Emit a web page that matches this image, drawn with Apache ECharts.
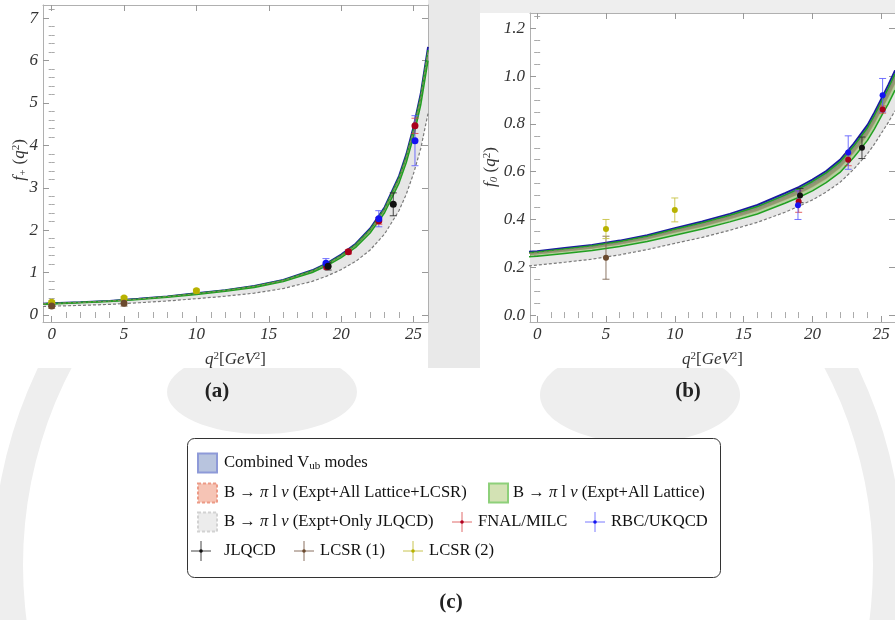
<!DOCTYPE html>
<html><head><meta charset="utf-8">
<script src="https://cdn.jsdelivr.net/npm/echarts@6/dist/echarts.min.js"></script>
<style>html,body{margin:0;padding:0;background:#fff}#c{width:895px;height:620px}</style>
</head><body><div id="c"></div><script>
// ---------- data ----------
const qGrid = [-0.6,0,2,4,6,8,10,12,14,16,18,19,20,21,22,23,24,24.5,25,25.5,26];

// f+ bands
const fpCombHi = [0.267,0.277,0.302,0.333,0.384,0.441,0.513,0.589,0.687,0.830,1.056,1.220,1.425,1.681,2.040,2.542,3.280,3.793,4.438,5.228,6.324];
const fpCombLo = [0.257,0.267,0.292,0.322,0.371,0.426,0.495,0.569,0.663,0.802,1.020,1.178,1.376,1.624,1.970,2.455,3.168,3.663,4.287,5.049,6.108];
const fpLatHi  = [0.263,0.273,0.299,0.329,0.380,0.435,0.506,0.582,0.678,0.820,1.042,1.204,1.407,1.660,2.014,2.510,3.238,3.744,4.382,5.161,6.244];
const fpLatLo  = [0.253,0.262,0.287,0.316,0.365,0.418,0.486,0.559,0.651,0.787,1.001,1.157,1.351,1.594,1.934,2.411,3.110,3.596,4.209,4.957,5.997];
const fpLcsrHi = [0.262,0.272,0.297,0.327,0.377,0.433,0.503,0.578,0.674,0.815,1.036,1.197,1.398,1.650,2.002,2.495,3.219,3.722,4.356,5.131,6.207];
const fpLcsrLo = [0.257,0.267,0.291,0.321,0.371,0.425,0.494,0.568,0.662,0.800,1.018,1.176,1.373,1.620,1.966,2.450,3.162,3.656,4.278,5.039,6.096];
const fpJlHi   = [0.252,0.262,0.286,0.315,0.364,0.417,0.485,0.558,0.650,0.786,0.999,1.154,1.348,1.591,1.930,2.406,3.104,3.589,4.200,4.947,5.985];
const fpJlLo   = [0.200,0.208,0.227,0.250,0.289,0.331,0.385,0.443,0.516,0.624,0.793,0.916,1.070,1.263,1.532,1.910,2.464,2.849,3.334,3.927,4.751];

// f0 bands
const f0CombHi = [0.265,0.268,0.281,0.294,0.312,0.335,0.364,0.392,0.424,0.461,0.510,0.536,0.567,0.603,0.650,0.718,0.796,0.848,0.905,0.962,1.024];
const f0CombLo = [0.251,0.254,0.266,0.279,0.296,0.317,0.345,0.371,0.402,0.436,0.483,0.507,0.537,0.571,0.616,0.680,0.754,0.803,0.857,0.911,0.970];
const f0LatHi  = [0.261,0.264,0.277,0.290,0.308,0.330,0.359,0.386,0.418,0.454,0.502,0.528,0.559,0.595,0.641,0.707,0.784,0.835,0.892,0.948,1.010];
const f0LatLo  = [0.244,0.246,0.258,0.270,0.287,0.308,0.334,0.360,0.390,0.423,0.468,0.492,0.520,0.554,0.597,0.659,0.731,0.778,0.831,0.883,0.941];
const f0LcsrHi = [0.258,0.261,0.273,0.286,0.303,0.325,0.354,0.381,0.412,0.447,0.495,0.520,0.550,0.586,0.631,0.697,0.773,0.823,0.879,0.934,0.995];
const f0LcsrLo = [0.250,0.253,0.265,0.277,0.294,0.316,0.343,0.369,0.400,0.434,0.480,0.505,0.534,0.568,0.613,0.676,0.750,0.799,0.853,0.907,0.965];
const f0JlHi   = [0.242,0.245,0.257,0.269,0.285,0.306,0.333,0.358,0.388,0.421,0.466,0.489,0.518,0.551,0.594,0.656,0.727,0.774,0.827,0.879,0.936];
const f0JlLo   = [0.206,0.209,0.221,0.234,0.252,0.274,0.300,0.325,0.355,0.388,0.430,0.455,0.482,0.515,0.555,0.610,0.675,0.715,0.760,0.805,0.855];

// lattice / LCSR points: f+
const fnalFpQ = [19.0, 20.5, 22.6, 25.1], fnalFpV = [1.14, 1.49, 2.22, 4.46], fnalFpE = [0.06, 0.05, 0.08, 0.18];
const rbcFpQ  = [18.95, 22.6, 25.1],      rbcFpV  = [1.22, 2.27, 4.11],       rbcFpE  = [0.11, 0.19, 0.59];
const jlFpQ   = [19.1, 23.6],             jlFpV   = [1.15, 2.61],             jlFpE   = [0.09, 0.27];
const ls1FpQ  = [0, 5],                   ls1FpV  = [0.21, 0.28],             ls1FpE  = [0.05, 0.07];
const ls2FpQ  = [0, 5, 10],               ls2FpV  = [0.30, 0.40, 0.57],       ls2FpE  = [0.03, 0.03, 0.04];
// f0
const fnalF0Q = [19.0, 22.6, 25.1], fnalF0V = [0.475, 0.65, 0.86], fnalF0E = [0.045, 0.025, 0.015];
const rbcF0Q  = [18.95, 22.6, 25.1], rbcF0V = [0.46, 0.68, 0.92],  rbcF0E  = [0.06, 0.07, 0.07];
const jlF0Q   = [19.1, 23.6],        jlF0V  = [0.50, 0.70],        jlF0E   = [0.03, 0.045];
const ls1F0Q  = [5],                 ls1F0V = [0.24],              ls1F0E  = [0.09];
const ls2F0Q  = [5, 10],             ls2F0V = [0.36, 0.44],        ls2F0E  = [0.04, 0.05];

// ticks
const xTicks = [0, 5, 10, 15, 20, 25];
const fpYTicks = [0, 1, 2, 3, 4, 5, 6, 7];
const f0YTicks = [0, 0.2, 0.4, 0.6, 0.8, 1.0, 1.2];

// ---------- helpers ----------
const SERIF = '"Liberation Serif","DejaVu Serif",serif';
function minorsOf(step, from, to, majorStep) {
  const out = [];
  for (let k = Math.ceil(from / step); k * step <= to + 1e-9; k++) {
    const v = Math.round(k * step * 1000) / 1000;
    if (Math.abs(v / majorStep - Math.round(v / majorStep)) > 1e-6) out.push(v);
  }
  return out;
}
const lblStyle = {fontFamily: SERIF, fontStyle: 'italic', fontSize: 17, color: '#333'};
const richName = {
  i: {fontFamily: SERIF, fontStyle: 'italic', fontSize: 17, color: '#333', fill: '#333', lineHeight: 18},
  n: {fontFamily: SERIF, fontSize: 17, color: '#333', fill: '#333', lineHeight: 18},
  s: {fontFamily: SERIF, fontSize: 11, color: '#333', fill: '#333', verticalAlign: 'top', lineHeight: 11},
  b: {fontFamily: SERIF, fontSize: 11, fontStyle: 'italic', color: '#333', fill: '#333', verticalAlign: 'bottom', lineHeight: 11}
};
function frameAxes(dim, g, min, max, majors, minors, fmt, name, nameGap) {
  const line = {show: true, onZero: false, lineStyle: {color: '#b0b0b0', width: 1}};
  const tickMaj = {show: true, inside: true, length: 6, customValues: majors, lineStyle: {color: '#999'}};
  const tickMin = {show: true, inside: true, length: 3, customValues: minors, lineStyle: {color: '#aaa'}};
  const c = {gridIndex: g, type: 'value', min, max, splitLine: {show: false}};
  const p1 = dim === 'x' ? 'bottom' : 'left', p2 = dim === 'x' ? 'top' : 'right';
  const main = Object.assign({}, c, {position: p1, axisLine: line, axisTick: tickMaj,
    axisLabel: Object.assign({show: true, customValues: majors, margin: dim === 'x' ? 4 : 5, formatter: fmt}, lblStyle)});
  if (name) Object.assign(main, {name, nameLocation: 'middle', nameGap, nameTextStyle: {rich: richName}});
  return [
    main,
    Object.assign({}, c, {position: p1, axisLine: {show: false}, axisTick: tickMin, axisLabel: {show: false}}),
    Object.assign({}, c, {position: p2, axisLine: line, axisTick: tickMaj, axisLabel: {show: false}}),
    Object.assign({}, c, {position: p2, axisLine: {show: false}, axisTick: tickMin, axisLabel: {show: false}})
  ];
}
function band(ax, lo, hi, fill, z) {
  return {
    type: 'custom', xAxisIndex: ax, yAxisIndex: ax, z, silent: true, clip: true,
    data: qGrid.map((q, i) => [q, lo[i], hi[i]]),
    encode: {x: 0, y: [1, 2]},
    renderItem: (params, api) => {
      if (params.dataIndex !== 0) return null;
      const top = qGrid.map((q, i) => api.coord([q, hi[i]]));
      const bot = qGrid.map((q, i) => api.coord([q, lo[i]])).reverse();
      return {type: 'polygon', shape: {points: top.concat(bot)}, style: {fill}};
    }
  };
}
function edge(ax, arr, color, width, type, z) {
  return {type: 'line', xAxisIndex: ax, yAxisIndex: ax, z, silent: true, showSymbol: false, symbol: 'none',
    data: qGrid.map((q, i) => [q, arr[i]]), lineStyle: {color, width, type}};
}
function errbars(ax, qs, vs, es, color, z) {
  return {
    type: 'custom', xAxisIndex: ax, yAxisIndex: ax, z, silent: true,
    data: qs.map((q, i) => [q, vs[i], es[i]]),
    encode: {x: 0, y: 1},
    renderItem: (params, api) => {
      const x = api.value(0), v = api.value(1), e = api.value(2);
      const a = api.coord([x, v + e]), b = api.coord([x, v - e]);
      const hw = 3.5, st = {stroke: color, lineWidth: 1};
      return {type: 'group', children: [
        {type: 'line', shape: {x1: a[0], y1: a[1], x2: b[0], y2: b[1]}, style: st},
        {type: 'line', shape: {x1: a[0] - hw, y1: a[1], x2: a[0] + hw, y2: a[1]}, style: st},
        {type: 'line', shape: {x1: b[0] - hw, y1: b[1], x2: b[0] + hw, y2: b[1]}, style: st}
      ]};
    }
  };
}
function pts(ax, qs, vs, color, size, z) {
  return {type: 'scatter', xAxisIndex: ax, yAxisIndex: ax, z, silent: true, symbol: 'circle', symbolSize: size,
    data: qs.map((q, i) => [q, vs[i]]), itemStyle: {color, opacity: 1}};
}
function panelSeries(ax, B, P, size) {
  return [
    band(ax, B.jlLo, B.jlHi, '#e6e6e6', 2),
    edge(ax, B.jlLo, '#7a7a7a', 1.2, [3, 2], 3),
    band(ax, B.combLo, B.combHi, 'rgba(70,80,190,0.75)', 4),
    edge(ax, B.combHi, '#1a1aa0', 1.8, 'solid', 5),
    band(ax, B.lcsrLo, B.lcsrHi, 'rgba(220,140,120,0.6)', 6),
    band(ax, B.latLo, B.latHi, 'rgba(120,170,80,0.55)', 7),
    edge(ax, B.latHi, '#22a022', 1.5, 'solid', 8),
    edge(ax, B.latLo, '#22a022', 1.5, 'solid', 8),
    edge(ax, B.lcsrHi, 'rgba(150,130,110,0.9)', 1, [3, 2], 9),
    errbars(ax, P.fnal[0], P.fnal[1], P.fnal[2], 'rgba(220,60,60,0.8)', 10),
    errbars(ax, P.rbc[0], P.rbc[1], P.rbc[2], 'rgba(90,90,255,0.85)', 10),
    errbars(ax, P.jl[0], P.jl[1], P.jl[2], 'rgba(40,40,40,0.85)', 10),
    errbars(ax, P.ls1[0], P.ls1[1], P.ls1[2], 'rgba(120,95,75,0.85)', 10),
    errbars(ax, P.ls2[0], P.ls2[1], P.ls2[2], 'rgba(200,195,70,0.9)', 10),
    pts(ax, P.ls2[0], P.ls2[1], '#b8b200', size, 11),
    pts(ax, P.ls1[0], P.ls1[1], '#6b4a2e', size, 12),
    pts(ax, P.fnal[0], P.fnal[1], '#a8001c', size, 12),
    pts(ax, P.rbc[0], P.rbc[1], '#1414f0', size, 13),
    pts(ax, P.jl[0], P.jl[1], '#111111', size, 14)
  ];
}

// ---------- legend / decorations ----------
const LF = 16.6;
const legRich = {
  r: {fontFamily: SERIF, fontSize: LF, fill: '#111', color: '#111'},
  i: {fontFamily: SERIF, fontSize: LF, fontStyle: 'italic', fill: '#111', color: '#111'},
  sub: {fontFamily: SERIF, fontSize: 11, fill: '#111', color: '#111', padding: [6, 0, 0, 0]}
};
function ltext(x, y, text) {
  return {type: 'text', x, y, z: 6, style: {text, rich: legRich, fill: '#111', font: LF + 'px ' + SERIF,
    verticalAlign: 'middle', textVerticalAlign: 'middle', align: 'left', textAlign: 'left'}};
}
function swatch(x, y, fill, stroke, dash) {
  return {type: 'rect', z: 6, shape: {x, y: y - 9.5, width: 19, height: 19},
    style: {fill, stroke, lineWidth: 2, lineDash: dash || null}};
}
function cross(cx, cy, lc, dc) {
  return {type: 'group', z: 6, children: [
    {type: 'line', z: 6, shape: {x1: cx - 10, y1: cy, x2: cx + 10, y2: cy}, style: {stroke: lc, lineWidth: 1}},
    {type: 'line', z: 6, shape: {x1: cx, y1: cy - 10, x2: cx, y2: cy + 10}, style: {stroke: lc, lineWidth: 1}},
    {type: 'circle', z: 6, shape: {cx, cy, r: 1.8}, style: {fill: dc}}
  ]};
}
function label(x, y, t) {
  return {type: 'text', x, y, z: 6, style: {text: t, fill: '#222', font: 'bold 21px ' + SERIF,
    align: 'center', textAlign: 'center', verticalAlign: 'middle', textVerticalAlign: 'middle'}};
}
function yTitle(x, y, t) {
  return {type: 'text', x, y, z: 6, rotation: Math.PI / 2, style: {text: t, rich: richName, fill: '#333',
    font: 'italic 17px ' + SERIF, align: 'center', textAlign: 'center', verticalAlign: 'middle', textVerticalAlign: 'middle'}};
}
const WM = '#eeeeee';
const graphics = [
  {type: 'ring', z: -5, shape: {cx: 448, cy: 565, r: 455, r0: 425}, style: {fill: WM}},
  {type: 'ellipse', z: -5, shape: {cx: 262, cy: 392, rx: 95, ry: 42}, style: {fill: WM}},
  {type: 'ellipse', z: -5, shape: {cx: 640, cy: 395, rx: 100, ry: 48}, style: {fill: WM}},
  {type: 'rect', z: -5, shape: {x: 428, y: 0, width: 52, height: 368}, style: {fill: '#e9e9e9'}},
  {type: 'rect', z: -5, shape: {x: 480, y: 0, width: 415, height: 13}, style: {fill: '#eeeeee'}},
  {type: 'rect', z: -4, shape: {x: 0, y: 0, width: 428, height: 368}, style: {fill: '#fff'}},
  {type: 'rect', z: -4, shape: {x: 480, y: 13, width: 415, height: 355}, style: {fill: '#fff'}},
  yTitle(20, 160, '{i|f}{b|+}{n| (}{i|q}{s|2}{n|)}'),
  yTitle(491, 167, '{i|f}{b|0}{n| (}{i|q}{s|2}{n|)}'),
  {type: 'rect', z: 5, shape: {x: 187.5, y: 438.5, width: 533, height: 139, r: 7}, style: {fill: '#fff', stroke: '#333', lineWidth: 1}},
  swatch(198, 463, '#b8c4de', '#8e9ad8'),
  ltext(224, 463, '{r|Combined V}{sub|ub}{r| modes}'),
  swatch(198, 493, '#f6c4b5', '#ec9a86', [3, 2]),
  ltext(224, 493, '{r|B → }{i|π}{r| l }{i|ν}{r| (Expt+All Lattice+LCSR)}'),
  swatch(489, 493, '#d3e2b4', '#8ed07a'),
  ltext(513, 493, '{r|B → }{i|π}{r| l }{i|ν}{r| (Expt+All Lattice)}'),
  swatch(198, 522, '#ececec', '#d2d2d2', [3, 2]),
  ltext(224, 522, '{r|B → }{i|π}{r| l }{i|ν}{r| (Expt+Only JLQCD)}'),
  cross(462, 522, '#e06a6a', '#b00020'),
  ltext(478, 522, '{r|FNAL/MILC}'),
  cross(595, 522, '#7a7aff', '#1414f0'),
  ltext(611, 522, '{r|RBC/UKQCD}'),
  cross(201, 551, '#444', '#111'),
  ltext(224, 551, '{r|JLQCD}'),
  cross(304, 551, '#8a7060', '#6b4a2e'),
  ltext(320, 551, '{r|LCSR (1)}'),
  cross(413, 551, '#c8c450', '#b8b200'),
  ltext(429, 551, '{r|LCSR (2)}'),
  label(217, 392, '(a)'),
  label(688, 392, '(b)'),
  label(451, 603, '(c)')
];

// ---------- option ----------
const xMin = minorsOf(1, -0.6, 26, 5);
const fpYMin = minorsOf(0.2, -0.165, 7.31, 1);
const f0YMin = minorsOf(0.05, -0.029, 1.264, 0.2);
const xName = '{i|q}{s|2}{n|[}{i|GeV}{s|2}{n|]}';

const option = {
  backgroundColor: '#fff',
  animation: false,
  grid: [
    {left: 43, top: 5, right: 467, bottom: 298},
    {left: 530, top: 13, right: -6, bottom: 298}
  ],
  xAxis: [].concat(
    frameAxes('x', 0, -0.6, 26.0, xTicks, xMin, v => String(v), xName, 29),
    frameAxes('x', 1, -0.52, 26.0, xTicks, xMin, v => String(v), xName, 29)
  ),
  yAxis: [].concat(
    frameAxes('y', 0, -0.165, 7.31, fpYTicks, fpYMin, v => String(v), null, 0),
    frameAxes('y', 1, -0.029, 1.264, f0YTicks, f0YMin, v => v.toFixed(1), null, 0)
  ),
  series: [].concat(
    panelSeries(0,
      {combLo: fpCombLo, combHi: fpCombHi, latLo: fpLatLo, latHi: fpLatHi, lcsrLo: fpLcsrLo, lcsrHi: fpLcsrHi, jlLo: fpJlLo, jlHi: fpJlHi},
      {fnal: [fnalFpQ, fnalFpV, fnalFpE], rbc: [rbcFpQ, rbcFpV, rbcFpE], jl: [jlFpQ, jlFpV, jlFpE], ls1: [ls1FpQ, ls1FpV, ls1FpE], ls2: [ls2FpQ, ls2FpV, ls2FpE]}, 7),
    panelSeries(4,
      {combLo: f0CombLo, combHi: f0CombHi, latLo: f0LatLo, latHi: f0LatHi, lcsrLo: f0LcsrLo, lcsrHi: f0LcsrHi, jlLo: f0JlLo, jlHi: f0JlHi},
      {fnal: [fnalF0Q, fnalF0V, fnalF0E], rbc: [rbcF0Q, rbcF0V, rbcF0E], jl: [jlF0Q, jlF0V, jlF0E], ls1: [ls1F0Q, ls1F0V, ls1F0E], ls2: [ls2F0Q, ls2F0V, ls2F0E]}, 6)
  ),
  graphic: {elements: graphics}
};
const chart = echarts.init(document.getElementById('c'), null, {renderer: 'canvas'});
chart.setOption(option);
</script></body></html>
